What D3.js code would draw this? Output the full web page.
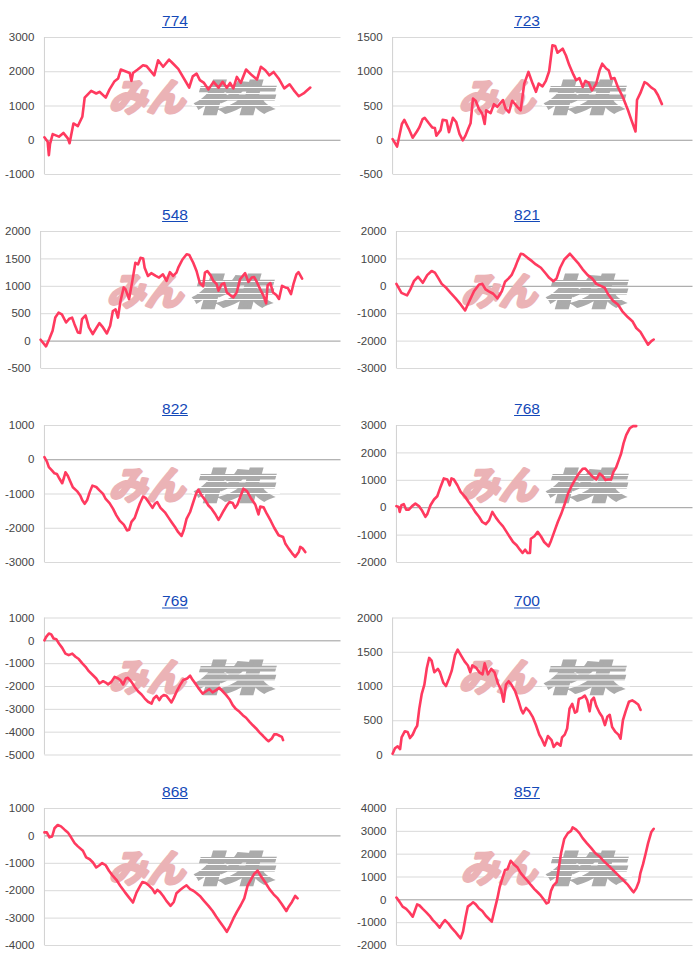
<!DOCTYPE html>
<html><head><meta charset="utf-8">
<script src="https://cdn.jsdelivr.net/npm/d3@7"></script>
<style>body{margin:0;background:#fff}svg{display:block}</style>
</head><body><svg id="c" width="700" height="965"></svg>
<script>
// ---- data ----
const titles = ["774","723","548","821","822","768","769","700","868","857"];
const yTicks = [
  [-1000,0,1000,2000,3000],
  [-500,0,500,1000,1500],
  [-500,0,500,1000,1500,2000],
  [-3000,-2000,-1000,0,1000,2000],
  [-3000,-2000,-1000,0,1000],
  [-2000,-1000,0,1000,2000,3000],
  [-5000,-4000,-3000,-2000,-1000,0,1000],
  [0,500,1000,1500,2000],
  [-4000,-3000,-2000,-1000,0,1000],
  [-2000,-1000,0,1000,2000,3000,4000]
];
const xDomain = [0,100]; // day index

const s774 = [[0,70],[1.1,-60],[1.5,-450],[1.9,-120],[2.8,165],[4.9,90],[6.4,200],[7.9,40],[8.5,-100],[9.8,475],[11.3,400],[12.8,670],[13.6,1230],[15.8,1430],[17.5,1350],[18.6,1400],[20.7,1230],[22.0,1470],[23.7,1710],[24.9,1790],[25.8,2050],[28.8,1950],[29.4,1720],[29.9,1950],[31.5,2050],[33.3,2175],[34.5,2150],[37.1,1880],[38.4,2320],[40.1,2130],[42.1,2340],[43.5,2220],[45.2,2070],[48.9,1525],[50.1,1850],[51.4,1930],[52.5,1740],[53.9,1660],[55.4,1470],[57.1,1690],[58.8,1520],[60.2,1690],[61.6,1520],[62.7,1660],[63.8,1500],[65.0,1835],[66.3,1660],[68.1,2050],[70.1,1880],[71.8,1760],[73.1,2130],[74.6,2030],[76.0,1880],[77.4,1980],[79.1,1790],[81.0,1500],[82.8,1620],[84.2,1450],[85.9,1270],[87.8,1370],[89.8,1525]];
const s723 = [[0,10],[1.5,-100],[3.1,230],[3.9,290],[5.4,160],[6.7,30],[8.1,120],[8.9,180],[10.0,300],[10.7,320],[12.1,240],[13.2,180],[14.1,170],[14.6,60],[16.0,140],[16.7,290],[18.0,280],[18.8,110],[20.1,320],[21.2,260],[22.3,85],[23.4,-10],[24.3,60],[25.4,180],[26.0,240],[26.8,600],[27.7,570],[28.8,450],[29.9,380],[30.7,230],[31.2,430],[32.7,390],[33.8,520],[34.9,480],[36.8,580],[37.7,450],[38.8,400],[39.9,570],[41.6,480],[42.7,430],[43.9,820],[45.3,990],[46.7,820],[47.8,700],[48.7,820],[50.0,780],[51.1,860],[52.2,1000],[53.3,1380],[54.2,1370],[55.0,1270],[56.7,1330],[57.8,1230],[58.9,1090],[60.3,950],[61.2,870],[62.3,900],[63.4,770],[64.3,860],[65.4,830],[66.5,720],[67.9,820],[69.0,1010],[69.9,1110],[71.2,1040],[72.1,1010],[72.9,890],[74.0,900],[75.1,770],[76.8,620],[78.5,430],[79.6,290],[81.0,120],[81.5,580],[82.6,680],[84.0,840],[84.9,820],[86.3,760],[87.4,730],[88.5,650],[89.8,520]];
const s548 = [[0,16],[1.8,-105],[2.9,28],[4.0,180],[4.9,420],[6.0,510],[7.1,480],[8.5,330],[9.6,400],[10.5,420],[11.3,300],[12.4,150],[13.2,140],[13.8,390],[15.0,460],[16.1,240],[17.4,120],[18.5,220],[19.6,320],[20.8,240],[22.1,130],[23.2,270],[24.1,540],[25.0,570],[25.8,420],[26.6,710],[27.7,970],[28.3,940],[29.5,760],[30.6,1090],[31.6,1420],[32.5,1390],[33.3,1510],[34.2,1500],[34.7,1330],[35.8,1180],[36.9,1230],[38.4,1180],[39.5,1150],[40.8,1210],[42.0,1090],[43.1,1250],[44.2,1180],[45.3,1240],[45.9,1330],[47.3,1480],[48.7,1575],[49.6,1560],[50.9,1420],[52.0,1270],[53.1,1050],[54.2,990],[54.8,1240],[55.6,1270],[56.7,1190],[57.6,1090],[58.7,1030],[59.3,910],[60.4,1030],[61.2,1050],[62.1,880],[63.2,830],[64.3,790],[65.4,880],[66.5,1120],[68.2,1230],[69.3,1070],[70.4,1150],[71.2,1160],[72.1,1070],[73.2,940],[74.3,820],[75.2,680],[75.7,1010],[76.6,1050],[77.5,880],[78.6,830],[79.5,760],[80.5,1000],[81.6,970],[82.4,960],[83.5,850],[84.4,1050],[85.3,1210],[86.0,1250],[87.2,1130]];
const s821 = [[0,70],[1.7,-260],[3.6,-350],[4.7,-130],[5.9,170],[7.3,330],[8.9,110],[10.4,390],[11.9,540],[13.0,480],[14.1,290],[15.3,70],[16.6,-50],[18.3,-260],[20.0,-460],[21.7,-680],[23.2,-900],[24.5,-590],[26.2,-200],[27.9,50],[29.0,70],[30.1,-130],[31.2,-200],[32.7,-290],[34.1,-460],[35.6,-200],[36.7,150],[37.9,270],[39.0,410],[40.1,680],[40.9,900],[42.0,1170],[42.8,1150],[44.3,1020],[45.8,900],[47.1,780],[48.8,660],[50.5,440],[51.6,290],[53.0,170],[54.1,270],[55.3,660],[56.7,960],[58.6,1170],[59.8,1020],[61.6,800],[62.9,600],[64.6,390],[66.1,270],[67.5,70],[69.2,-10],[70.3,-70],[71.4,-290],[73.1,-540],[74.8,-680],[76.3,-930],[78.2,-1150],[79.7,-1290],[81.0,-1540],[82.4,-1680],[83.5,-1880],[85.0,-2150],[86.1,-2020],[86.9,-1960]];
const s822 = [[0,60],[0.8,-60],[1.5,-230],[2.6,-330],[3.4,-410],[4.2,-430],[5.1,-570],[6.0,-700],[6.6,-540],[7.1,-380],[7.9,-480],[8.7,-640],[9.6,-820],[11.0,-930],[12.1,-1060],[12.8,-1200],[13.6,-1300],[14.4,-1200],[15.3,-960],[16.2,-770],[17.5,-810],[18.6,-910],[19.8,-1010],[20.7,-1160],[22.0,-1280],[23.2,-1450],[24.3,-1640],[25.4,-1790],[26.8,-1910],[27.9,-2080],[28.6,-2060],[29.4,-1830],[30.5,-1710],[31.3,-1510],[32.2,-1300],[33.3,-1090],[34.2,-1130],[35.4,-1280],[36.5,-1420],[37.3,-1300],[38.1,-1250],[39.2,-1420],[40.7,-1550],[41.8,-1690],[42.9,-1830],[44.1,-1980],[45.2,-2130],[46.3,-2240],[47.1,-2060],[48.0,-1740],[49.2,-1540],[50.1,-1300],[51.2,-1010],[52.0,-890],[53.1,-1060],[54.2,-1180],[55.4,-1350],[56.5,-1450],[57.6,-1590],[58.8,-1770],[59.5,-1670],[60.5,-1510],[61.6,-1350],[62.5,-1250],[63.6,-1280],[64.4,-1420],[65.2,-1320],[66.1,-1110],[67.2,-860],[68.4,-930],[69.7,-1130],[71.2,-1320],[72.3,-1610],[72.9,-1380],[74.0,-1400],[75.1,-1590],[76.5,-1810],[77.6,-2000],[79.1,-2220],[80.6,-2270],[81.4,-2470],[82.5,-2610],[83.6,-2740],[84.7,-2850],[85.9,-2710],[86.4,-2560],[87.3,-2610],[88.1,-2710]];
const s768 = [[0,40],[0.8,10],[1.1,-170],[1.7,70],[2.5,110],[3.3,-90],[4.2,-90],[5.3,40],[6.4,130],[7.6,40],[8.7,-130],[9.8,-350],[10.4,-260],[11.5,70],[12.7,280],[13.8,400],[14.9,740],[16.0,1050],[17.2,1010],[18.0,800],[18.6,1050],[19.4,1010],[20.6,800],[21.7,560],[23.2,380],[24.3,200],[25.4,40],[26.6,-170],[27.9,-350],[29.0,-540],[30.2,-620],[31.3,-480],[32.4,-170],[33.6,-380],[34.7,-540],[36.0,-700],[37.2,-900],[38.3,-1090],[39.4,-1270],[40.6,-1390],[41.7,-1550],[42.6,-1670],[43.5,-1550],[44.3,-1670],[45.1,-1670],[45.4,-1150],[46.6,-1060],[47.7,-900],[48.8,-1060],[49.9,-1270],[51.4,-1430],[52.2,-1230],[53.3,-900],[54.5,-540],[55.6,-260],[56.7,70],[57.9,480],[59.0,740],[60.1,960],[61.6,1230],[62.9,1400],[63.8,1410],[65.0,1260],[66.3,1110],[67.5,1010],[68.6,1230],[69.7,1130],[70.6,990],[71.4,1010],[72.5,1010],[73.3,1290],[74.2,1450],[75.1,1720],[75.9,1960],[76.7,2330],[77.6,2630],[78.8,2880],[79.9,2960],[81.0,2960]];
const s769 = [[0,0],[0.6,150],[1.5,300],[2.3,260],[3.1,80],[4.0,50],[4.9,-140],[6.0,-330],[7.1,-580],[8.2,-650],[9.4,-580],[10.5,-720],[11.6,-820],[12.8,-1010],[13.9,-1160],[15.0,-1350],[16.4,-1530],[17.5,-1670],[18.6,-1890],[19.8,-1790],[20.7,-1850],[21.5,-1930],[22.6,-1820],[23.7,-1600],[24.9,-1670],[25.6,-1740],[26.6,-1930],[27.5,-1670],[28.2,-1640],[29.4,-1820],[30.5,-2040],[31.6,-2230],[32.8,-2370],[33.9,-2550],[35.0,-2690],[36.2,-2770],[36.9,-2550],[37.9,-2430],[38.8,-2620],[39.5,-2470],[40.3,-2400],[41.2,-2430],[42.1,-2580],[42.9,-2720],[43.7,-2520],[44.6,-2260],[45.8,-1960],[46.9,-1740],[48.2,-1670],[49.2,-1550],[50.1,-1740],[51.2,-1930],[52.3,-2140],[53.4,-2330],[54.6,-2230],[55.7,-2140],[56.8,-2280],[58.0,-2180],[59.1,-2080],[60.2,-2230],[61.4,-2400],[62.5,-2580],[63.6,-2840],[64.7,-3010],[65.9,-3130],[67.0,-3280],[68.1,-3390],[69.3,-3570],[70.4,-3720],[71.5,-3860],[72.7,-4040],[73.8,-4180],[74.9,-4330],[75.7,-4420],[76.8,-4300],[77.6,-4120],[78.5,-4120],[79.4,-4180],[80.2,-4230],[80.6,-4370]];
const s700 = [[0,10],[0.8,90],[1.7,120],[2.5,80],[3.0,250],[4.1,340],[5.0,330],[5.8,240],[6.7,290],[7.5,370],[8.2,420],[8.9,670],[9.7,880],[10.6,1020],[11.4,1260],[12.2,1410],[13.0,1370],[13.9,1200],[15.1,1250],[15.8,1200],[16.9,1050],[17.8,1000],[18.8,1110],[19.7,1220],[20.8,1450],[21.7,1530],[22.9,1440],[24.0,1360],[25.1,1300],[25.9,1200],[26.6,1300],[27.8,1270],[28.9,1200],[30.0,1170],[30.7,1330],[31.8,1170],[32.9,1250],[34.0,1200],[35.1,1040],[36.2,940],[37.0,770],[37.8,1020],[38.7,1070],[39.6,1020],[40.9,920],[42.0,780],[42.9,650],[43.5,600],[44.5,680],[45.6,630],[46.7,550],[47.8,430],[48.9,290],[49.8,220],[50.7,130],[51.8,270],[53.0,210],[53.7,110],[54.8,170],[56.0,130],[56.5,250],[57.4,290],[58.2,380],[59.0,670],[59.9,740],[60.8,610],[61.5,630],[62.1,810],[63.2,830],[64.1,860],[64.9,790],[65.7,630],[66.3,790],[67.1,830],[67.9,710],[69.0,610],[69.9,550],[70.8,430],[71.6,550],[72.4,580],[73.2,400],[74.3,330],[75.3,290],[76.0,230],[76.8,500],[77.7,630],[78.8,770],[79.9,790],[81.0,760],[81.9,730],[82.7,650]];
const s868 = [[0,110],[0.8,110],[1.7,-70],[2.6,-40],[3.4,260],[4.5,380],[5.6,330],[6.8,210],[7.9,110],[9.0,-70],[10.2,-280],[11.3,-400],[13.0,-560],[14.1,-800],[15.3,-870],[16.4,-990],[17.5,-1170],[18.6,-1090],[19.5,-1010],[20.7,-1090],[21.8,-1290],[22.9,-1450],[24.3,-1620],[25.6,-1840],[27.1,-2060],[28.6,-2270],[29.9,-2450],[31.1,-2090],[32.2,-1870],[33.1,-1700],[34.2,-1740],[35.4,-1840],[36.5,-1960],[37.3,-2110],[38.1,-1990],[39.0,-2060],[40.1,-2210],[41.2,-2390],[42.6,-2570],[43.7,-2430],[44.6,-2110],[45.8,-1990],[46.9,-1900],[48.0,-1820],[49.2,-1960],[50.3,-2020],[51.4,-2110],[52.5,-2210],[53.9,-2390],[55.4,-2570],[56.8,-2760],[58.0,-2960],[59.3,-3160],[60.7,-3370],[61.6,-3520],[62.7,-3300],[63.8,-3040],[65.0,-2790],[66.3,-2550],[67.5,-2300],[68.6,-1840],[69.7,-1620],[70.8,-1410],[72.0,-1290],[73.1,-1480],[74.6,-1720],[76.0,-1960],[77.4,-2150],[78.8,-2300],[80.2,-2510],[81.7,-2760],[82.5,-2600],[83.6,-2430],[84.7,-2210],[85.5,-2300]];
const s857 = [[0,80],[1.0,-100],[2.1,-320],[3.3,-420],[4.4,-570],[5.5,-760],[6.2,-510],[7.0,-220],[7.8,-270],[8.9,-420],[10.1,-570],[11.2,-720],[12.3,-910],[13.4,-1050],[14.6,-1240],[15.5,-1050],[16.4,-910],[17.5,-1050],[18.6,-1240],[19.8,-1410],[20.9,-1590],[21.7,-1710],[22.5,-1410],[23.4,-760],[24.1,-320],[25.1,-220],[25.9,-130],[26.8,-220],[27.9,-400],[29.0,-510],[30.2,-720],[31.3,-860],[32.2,-980],[33.0,-540],[34.1,40],[34.9,550],[35.8,930],[36.7,1290],[37.5,1320],[38.6,1690],[39.8,1510],[40.9,1390],[42.0,1150],[43.2,960],[44.3,810],[45.4,630],[46.6,450],[47.7,310],[48.8,160],[49.9,-30],[50.7,-180],[51.4,-130],[52.2,370],[53.0,600],[54.1,750],[54.8,1330],[55.6,2020],[56.7,2650],[57.9,2900],[59.0,3000],[59.5,3150],[60.7,3050],[61.8,2900],[62.9,2680],[64.3,2460],[65.8,2240],[67.2,2020],[68.6,1880],[69.9,1690],[71.4,1510],[73.1,1290],[74.8,1070],[76.5,850],[78.2,630],[79.7,370],[80.1,310],[81.0,480],[81.9,780],[82.4,1150],[83.3,1540],[84.2,2020],[85.0,2460],[86.1,2950],[86.9,3090]];
const series = [s774,s723,s548,s821,s822,s768,s769,s700,s868,s857];

// ---- layout ----
const colX = [0, 352];
const rowTop = [37, 231, 425, 617.5, 808];
const plotH = 137;
const plotRight = 340.5;
const FONT = "'Liberation Sans', Arial, sans-serif";

const svg = d3.select("#c");

titles.forEach((title, i) => {
  const ox = colX[i % 2];
  const top = rowTop[Math.floor(i / 2)];
  const ticks = yTicks[i];
  const g = svg.append("g");

  const y = d3.scaleLinear().domain(d3.extent(ticks)).range([top + plotH, top]);

  const tmp = g.append("g").attr("font-family", FONT).attr("font-size", 11.5);
  const tw = d3.max(ticks, t => tmp.append("text").text(t).node().getComputedTextLength());
  tmp.remove();
  const axisX = ox + 5 + tw + 10;
  const x = d3.scaleLinear().domain(xDomain).range([axisX, ox + plotRight]);
  const w = ox + plotRight - axisX;

  const ax = g.append("g").attr("transform", `translate(${axisX},0)`)
    .call(d3.axisLeft(y).tickValues(ticks).tickSize(-w).tickPadding(10).tickFormat(d => d));
  ax.select(".domain").remove();
  ax.attr("font-family", FONT).attr("font-size", 11.5);
  ax.selectAll(".tick line").attr("stroke", d => d === 0 ? "#9a9a9a" : "#d9d9d9").attr("stroke-width", 1);
  ax.selectAll(".tick text").attr("fill", "#444");
  g.append("line").attr("x1", axisX).attr("x2", axisX).attr("y1", top).attr("y2", top + plotH)
    .attr("stroke", "#d0d0d0");

  // watermark
  const cx = (axisX + ox + plotRight) / 2, cy = top + plotH / 2 - 9;
  const wm = g.append("g").attr("transform", `translate(${cx},${cy}) skewX(-16)`);
  wm.append("text").attr("x", -80).attr("y", 14).text("みん")
    .attr("font-family", "'Noto Sans CJK JP', sans-serif").attr("font-weight", 700)
    .attr("font-size", 38).attr("textLength", 76).attr("lengthAdjust", "spacingAndGlyphs")
    .attr("fill", "#ebb3b6").attr("stroke", "#ebb3b6").attr("stroke-width", 3.2)
    .attr("stroke-linejoin", "round");
  wm.append("text").attr("x", 4).attr("y", 14).text("株")
    .attr("font-family", "'Noto Sans CJK JP', sans-serif").attr("font-weight", 700)
    .attr("font-size", 36).attr("textLength", 80).attr("lengthAdjust", "spacingAndGlyphs")
    .attr("fill", "#ababab").attr("stroke", "#ababab").attr("stroke-width", 2);
  [-9, -3, 3, 9].forEach(dy => {
    wm.append("line").attr("x1", 2).attr("x2", 90).attr("y1", dy).attr("y2", dy)
      .attr("stroke", "#fff").attr("stroke-width", 1.2);
  });

  g.append("path").datum(series[i])
    .attr("fill", "none").attr("stroke", "#ff3a5f").attr("stroke-width", 2.6)
    .attr("stroke-linejoin", "round").attr("stroke-linecap", "round")
    .attr("d", d3.line().x(d => x(d[0])).y(d => y(d[1])));

  const tx = ox + 175, ty = top - 11.5;
  const tt = g.append("text").attr("x", tx).attr("y", ty).attr("text-anchor", "middle")
    .attr("font-family", FONT).attr("font-size", 15.5).attr("fill", "#1449b8").text(title);
  const tlen = tt.node().getComputedTextLength();
  g.append("line").attr("x1", tx - tlen / 2).attr("x2", tx + tlen / 2)
    .attr("y1", ty + 2).attr("y2", ty + 2).attr("stroke", "#1449b8").attr("stroke-width", 1);
});
</script></body></html>
